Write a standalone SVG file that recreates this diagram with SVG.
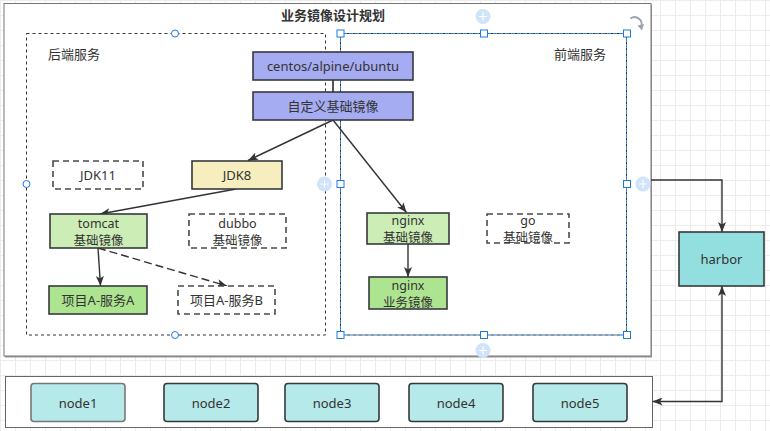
<svg xmlns="http://www.w3.org/2000/svg" width="770" height="431" viewBox="0 0 770 431">
<defs>
<pattern id="grid" width="15" height="15" patternUnits="userSpaceOnUse">
<path d="M0.5 0V15M0 0.5H15" stroke="#ececec" stroke-width="1" fill="none"/>
</pattern>
<marker id="arr" markerWidth="10" markerHeight="8" refX="10" refY="4" orient="auto-start-reverse" markerUnits="userSpaceOnUse">
<path d="M0,0 L10,4 L0,8 L2.5,4 z" fill="#333"/>
</marker>
<style>
text{font-family:"Noto Sans","Noto Sans CJK SC",sans-serif;font-size:13px;fill:#333;text-anchor:middle;dominant-baseline:central}
text.two{font-size:12.5px}
.lbl{text-anchor:start}
.node{stroke:#36393d;stroke-width:1.6}
.dash{fill:#fff;stroke:#4a4a4a;stroke-width:1.6;stroke-dasharray:6 4}
.cont{fill:none;stroke:#333;stroke-width:1;stroke-dasharray:3 3}
.edge{fill:none;stroke:#333;stroke-width:1.4}
.sq{fill:#fff;stroke:#1f7ae0;stroke-width:1}
.ci{fill:#fff;stroke:#1f7ae0;stroke-width:1}
.plus{fill:#cfe3fa}
.pl{stroke:#fff;stroke-width:1.2}
</style>
</defs>
<rect width="770" height="431" fill="#fff"/>
<rect width="770" height="431" fill="url(#grid)"/>

<!-- outer containers -->
<g id="main-container">
<rect x="5" y="4.5" width="647" height="353" fill="#9a9a9a"/>
<rect x="4" y="3.5" width="647" height="352.5" fill="#fff" stroke="#777" stroke-width="1"/>
<text x="333" y="15" font-weight="bold">业务镜像设计规划</text>
</g>

<g id="backend-container">
<rect x="26.5" y="33.5" width="299" height="301.5" class="cont"/>
<text class="lbl" x="48" y="54">后端服务</text>
</g>

<g id="frontend-container">
<rect x="340.5" y="33.5" width="286" height="301.5" class="cont"/>
<rect x="340.5" y="33.5" width="286" height="301.5" fill="none" stroke="#1f7ae0" stroke-width="1" stroke-dasharray="3 3" stroke-dashoffset="3"/>
<text class="lbl" x="554" y="54">前端服务</text>
</g>

<g id="bottom-container">
<rect x="5.5" y="376.5" width="647" height="51" fill="#fff" stroke="#666" stroke-width="1"/>
</g>

<!-- connectors -->
<g id="connectors">
<line x1="333" y1="80" x2="333" y2="92" stroke="#555" stroke-width="2"/>
<line class="edge" x1="333" y1="120" x2="248" y2="160.5" marker-end="url(#arr)"/>
<line class="edge" x1="333" y1="120" x2="406.5" y2="212.5" marker-end="url(#arr)"/>
<line class="edge" x1="236" y1="189" x2="100" y2="214" marker-end="url(#arr)"/>
<line class="edge" x1="98" y1="248" x2="100.5" y2="286" marker-end="url(#arr)"/>
<line class="edge" x1="98" y1="248" x2="227" y2="286" stroke-dasharray="8 4" marker-end="url(#arr)"/>
<line class="edge" x1="408" y1="244" x2="408" y2="277" marker-end="url(#arr)"/>
<path class="edge" d="M651,180 H722 V232" marker-end="url(#arr)"/>
<path class="edge" d="M722,286 V401.5 H652.5" marker-start="url(#arr)" marker-end="url(#arr)"/>
</g>

<!-- nodes -->
<g id="n-centos"><rect class="node" x="253" y="52" width="160" height="28" fill="#a6acf2"/><text x="333" y="66">centos/alpine/ubuntu</text></g>
<g id="n-custom"><rect class="node" x="253" y="92" width="160" height="28" fill="#a6acf2"/><text x="333" y="106">自定义基础镜像</text></g>
<g id="n-jdk11"><rect class="dash" x="53" y="161" width="90" height="28"/><text x="98" y="175">JDK11</text></g>
<g id="n-jdk8"><rect class="node" x="192" y="161" width="90" height="28" fill="#f6eebf"/><text x="237" y="175">JDK8</text></g>
<g id="n-tomcat"><rect class="node" x="50" y="214" width="97" height="34" fill="#cdedb6"/><text class="two"><tspan x="98.5" y="222.5">tomcat</tspan><tspan x="98.5" y="239.5">基础镜像</tspan></text></g>
<g id="n-dubbo"><rect class="dash" x="189" y="214" width="97" height="34"/><text class="two"><tspan x="237.5" y="222.5">dubbo</tspan><tspan x="237.5" y="239.5">基础镜像</tspan></text></g>
<g id="n-svcA"><rect class="node" x="49" y="286" width="98" height="28" fill="#ade490"/><text x="98" y="300">项目A-服务A</text></g>
<g id="n-svcB"><rect class="dash" x="178" y="286" width="97" height="28"/><text x="226.5" y="300">项目A-服务B</text></g>
<g id="n-nginx-base"><rect class="node" x="367" y="213" width="82" height="31" fill="#cdedb6"/><text class="two"><tspan x="408" y="220">nginx</tspan><tspan x="408" y="237">基础镜像</tspan></text></g>
<g id="n-go"><rect class="dash" x="487" y="214" width="82" height="29"/><text class="two"><tspan x="528" y="220">go</tspan><tspan x="528" y="237">基础镜像</tspan></text></g>
<g id="n-nginx-biz"><rect class="node" x="369" y="277" width="78" height="32" fill="#ade490"/><text class="two"><tspan x="408" y="284.5">nginx</tspan><tspan x="408" y="301.5">业务镜像</tspan></text></g>
<g id="n-harbor"><rect class="node" x="679" y="232" width="85" height="54" fill="#93dfe0"/><text x="721.5" y="259">harbor</text></g>
<g id="n-node1"><rect x="31" y="383.5" width="94" height="38" rx="3" fill="#b6e9e9" stroke="#777" stroke-width="1.6"/><text x="78" y="402.5">node1</text></g>
<g id="n-node2"><rect class="node" x="164" y="383.5" width="94" height="38" rx="3" fill="#b6e9e9"/><text x="211" y="402.5">node2</text></g>
<g id="n-node3"><rect class="node" x="285" y="383.5" width="94" height="38" rx="3" fill="#b6e9e9"/><text x="332" y="402.5">node3</text></g>
<g id="n-node4"><rect class="node" x="409" y="383.5" width="94" height="38" rx="3" fill="#b6e9e9"/><text x="456" y="402.5">node4</text></g>
<g id="n-node5"><rect class="node" x="533" y="383.5" width="94" height="38" rx="3" fill="#b6e9e9"/><text x="580" y="402.5">node5</text></g>

<!-- selection handles -->
<g id="handles">
<circle class="ci" cx="175" cy="33.5" r="3.5"/>
<circle class="ci" cx="26.5" cy="184" r="3.5"/>
<circle class="ci" cx="175" cy="335" r="3.5"/>
<rect class="sq" x="337" y="30" width="7" height="7"/>
<rect class="sq" x="480.5" y="30" width="7" height="7"/>
<rect class="sq" x="623.5" y="30" width="7" height="7"/>
<rect class="sq" x="337" y="180.5" width="7" height="7"/>
<rect class="sq" x="623.5" y="180.5" width="7" height="7"/>
<rect class="sq" x="337" y="331.5" width="7" height="7"/>
<rect class="sq" x="480.5" y="331.5" width="7" height="7"/>
<rect class="sq" x="623.5" y="331.5" width="7" height="7"/>
<circle class="plus" cx="483" cy="16.5" r="7.5"/><path class="pl" d="M479,16.5H487M483,12.5V20.5"/>
<circle class="plus" cx="324.5" cy="184" r="7.5"/><path class="pl" d="M320.5,184H328.5M324.5,180V188"/>
<circle class="plus" cx="643" cy="184" r="7.5"/><path class="pl" d="M639,184H647M643,180V188"/>
<circle class="plus" cx="483" cy="350.5" r="7.5"/><path class="pl" d="M479,350.5H487M483,346.5V354.5"/>
<path d="M630.5,18.5 A7,7 0 0 1 641,27" fill="none" stroke="#9aa2ae" stroke-width="1.8"/>
<path d="M637.5,25.5 L642,30.5 L644,24 z" fill="#9aa2ae"/>
</g>
</svg>
